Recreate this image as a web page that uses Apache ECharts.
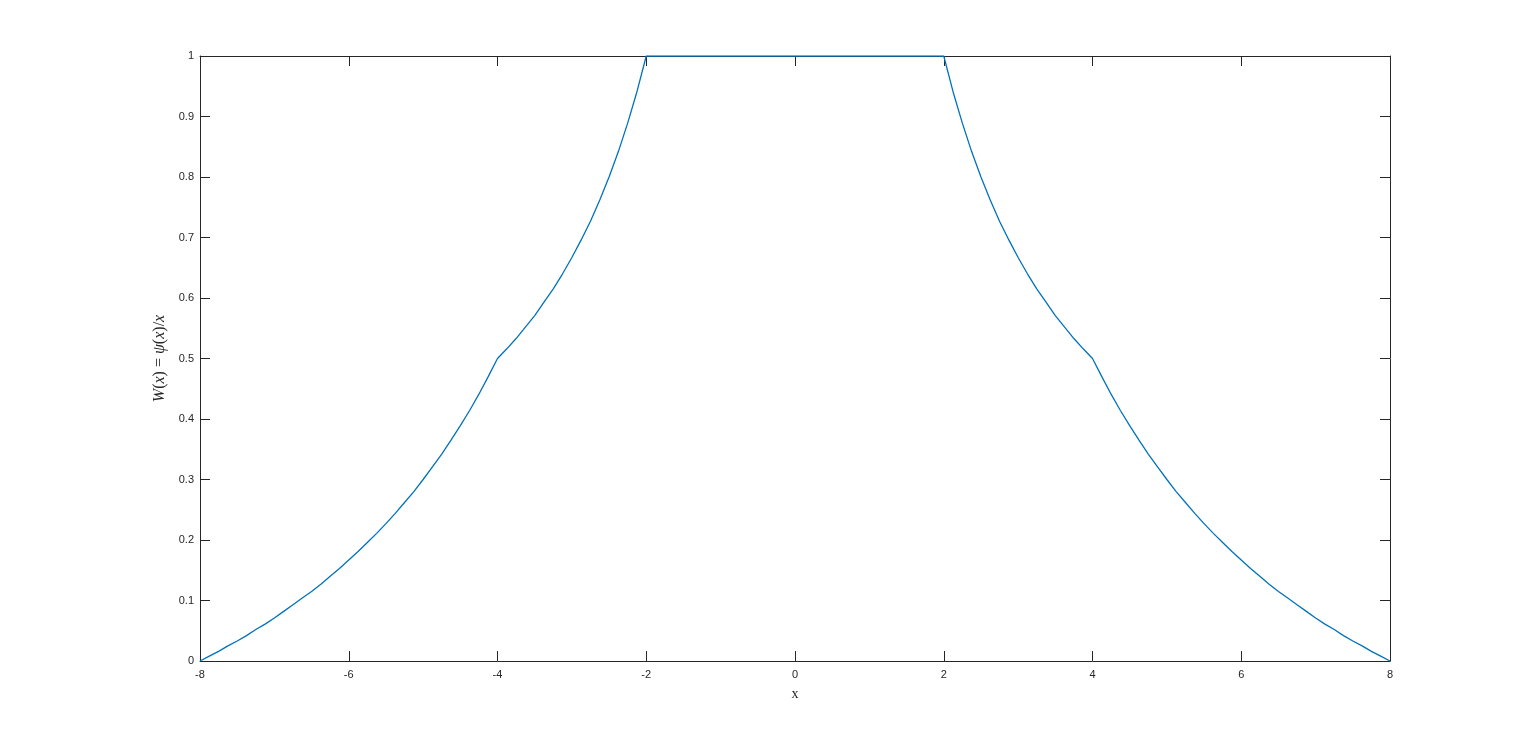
<!DOCTYPE html>
<html>
<head>
<meta charset="utf-8">
<title>W(x) = psi(x)/x</title>
<script src="https://cdn.jsdelivr.net/npm/echarts@6/dist/echarts.min.js"></script>
<style>
  html, body { margin: 0; padding: 0; background: #ffffff; }
  #chart { width: 1536px; height: 744px; }
</style>
</head>
<body>
<div id="chart"></div>
<script>
"use strict";

// points (left branch, flat top, right branch)
var xVals = [
  -8, -7.875, -7.75, -7.625, -7.5, -7.375, -7.25, -7.125, -7, -6.875, -6.75, -6.625, -6.5,
  -6.375, -6.25, -6.125, -6, -5.875, -5.75, -5.625, -5.5, -5.375, -5.25, -5.125, -5,
  -4.875, -4.75, -4.625, -4.5, -4.375, -4.25, -4.125, -4, -3.875, -3.75, -3.625, -3.5,
  -3.375, -3.25, -3.125, -3, -2.875, -2.75, -2.625, -2.5, -2.375, -2.25, -2.125, -2,
  2, 2.125, 2.25, 2.375, 2.5, 2.625, 2.75, 2.875, 3, 3.125, 3.25, 3.375, 3.5,
  3.625, 3.75, 3.875, 4, 4.125, 4.25, 4.375, 4.5, 4.625, 4.75, 4.875, 5,
  5.125, 5.25, 5.375, 5.5, 5.625, 5.75, 5.875, 6, 6.125, 6.25, 6.375, 6.5,
  6.625, 6.75, 6.875, 7, 7.125, 7.25, 7.375, 7.5, 7.625, 7.75, 7.875, 8
];
var wVals = [
  0, 0.008, 0.016, 0.025, 0.033, 0.042, 0.052, 0.061, 0.071, 0.082, 0.093, 0.104, 0.115,
  0.127, 0.14, 0.153, 0.167, 0.181, 0.196, 0.211, 0.227, 0.244, 0.262, 0.28, 0.3,
  0.321, 0.342, 0.365, 0.389, 0.414, 0.441, 0.47, 0.5, 0.516, 0.533, 0.552, 0.571,
  0.593, 0.615, 0.64, 0.667, 0.696, 0.727, 0.762, 0.8, 0.842, 0.889, 0.941, 1,
  1, 0.941, 0.889, 0.842, 0.8, 0.762, 0.727, 0.696, 0.667, 0.64, 0.615, 0.593, 0.571,
  0.552, 0.533, 0.516, 0.5, 0.47, 0.441, 0.414, 0.389, 0.365, 0.342, 0.321, 0.3,
  0.28, 0.262, 0.244, 0.227, 0.211, 0.196, 0.181, 0.167, 0.153, 0.14, 0.127, 0.115,
  0.104, 0.093, 0.082, 0.071, 0.061, 0.052, 0.042, 0.033, 0.025, 0.016, 0.008, 0
];

var axisColor = '#262626';
var chart = echarts.init(document.getElementById('chart'));

var pts = [];
xVals.forEach(function (x, i) {
  pts.push([x, wVals[i]]);
});

function boxAxis(pos, showLabels) {
  return {
    type: 'value',
    position: pos,
    axisLine: { show: true, onZero: false, lineStyle: { color: axisColor, width: 1 } },
    axisTick: { show: true, inside: true, length: 10, lineStyle: { color: axisColor } },
    axisLabel: { show: showLabels, color: axisColor, fontFamily: 'Liberation Sans', fontSize: 11 },
    splitLine: { show: false }
  };
}

var xBottom = boxAxis('bottom', true);
xBottom.min = -8; xBottom.max = 8; xBottom.interval = 2;
xBottom.axisLabel.margin = 8;
xBottom.name = 'x';
xBottom.nameLocation = 'middle';
xBottom.nameGap = 26;
xBottom.nameTextStyle = { fontFamily: 'Liberation Serif', fontSize: 14, color: axisColor };
var xTop = boxAxis('top', false);
xTop.min = -8; xTop.max = 8; xTop.interval = 2;

var yLeft = boxAxis('left', true);
yLeft.min = 0; yLeft.max = 1; yLeft.interval = 0.1;
yLeft.axisLabel.margin = 6;
yLeft.name = '{i|W}{n|(}{i|x}{n|) = }{i|ψ}{n|(}{i|x}{n|)/}{i|x}';
yLeft.nameLocation = 'middle';
yLeft.nameRotate = 90;
yLeft.nameGap = 28;
yLeft.nameTextStyle = {
  color: axisColor,
  rich: {
    i: { fontFamily: 'Liberation Serif', fontStyle: 'italic', fontSize: 16, color: axisColor },
    n: { fontFamily: 'Liberation Serif', fontSize: 16, color: axisColor }
  }
};
var yRight = boxAxis('right', false);
yRight.min = 0; yRight.max = 1; yRight.interval = 0.1;

var option = {
  backgroundColor: '#ffffff',
  animation: false,
  grid: { left: 200, right: 146, top: 56, bottom: 83 },
  xAxis: [xBottom, xTop],
  yAxis: [yLeft, yRight],
  series: [{
    type: 'line',
    data: pts,
    xAxisIndex: 0,
    yAxisIndex: 0,
    showSymbol: false,
    smooth: false,
    lineStyle: { color: '#0072BD', width: 1.3 },
    itemStyle: { color: '#0072BD' }
  }]
};

chart.setOption(option);
</script>
</body>
</html>
